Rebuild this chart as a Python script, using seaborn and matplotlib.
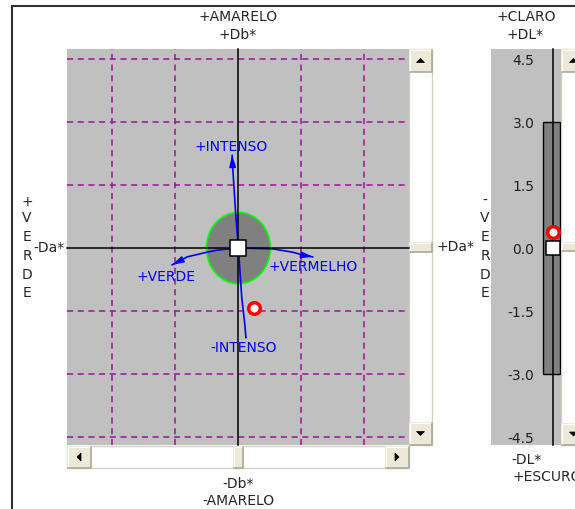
import matplotlib
matplotlib.use("Agg")
import matplotlib.pyplot as plt
from matplotlib.patches import Ellipse, Rectangle, Polygon
import seaborn as sns

sns.set_style("white")
plt.rcParams["font.family"] = ["DejaVu Sans"]
plt.rcParams["axes.unicode_minus"] = False

# CIELAB difference scales
da_ticks = [-3.0, -1.5, 1.5, 3.0]
db_ticks = [-4.5, -3.0, -1.5, 1.5, 3.0, 4.5]
dl_ticks = [4.5, 3.0, 1.5, 0.0, -1.5, -3.0, -4.5]

# tolerance region
tol_da = 0.76
tol_db = 0.85
tol_dl_low = -3.0
tol_dl_high = 3.0

# measured sample
sample_da = [0.37]
sample_db = [-1.43]
sample_dl = [0.38]

# standard (origin)
std_da = [0.0]
std_db = [0.0]
std_dl = [0.0]

# direction curves through the standard
intenso_pos_da = [0.0, -0.06, -0.11, -0.14, -0.15]
intenso_pos_db = [0.0, 0.74, 1.52, 1.98, 2.21]
intenso_neg_da = [0.0, 0.04, 0.08, 0.15, 0.18]
intenso_neg_db = [0.0, -0.60, -1.19, -1.80, -2.14]
verde_da = [0.0, -0.51, -0.75, -1.22, -1.44, -1.58]
verde_db = [0.0, -0.05, -0.10, -0.21, -0.33, -0.40]
vermelho_da = [0.0, 0.82, 1.30, 1.54, 1.77]
vermelho_db = [0.0, -0.02, -0.10, -0.17, -0.21]

W, H = 575, 509
FS = 10
BLUE = "#0000ff"
PANEL = "#c0c0c0"
GRIDC = "#a010a0"
FACE = "#ece9d8"
SHADOW = "#aca899"

fig = plt.figure(figsize=(W / 100, H / 100), dpi=100)
fig.patch.set_facecolor("white")

# ---- window chrome in pixel coordinates ----
bg = fig.add_axes([0, 0, 1, 1], zorder=0)
bg.set_xlim(0, W)
bg.set_ylim(H, 0)
bg.axis("off")

bg.plot([12, 12, W], [H, 6, 6], color="#303030", lw=1.5, solid_joinstyle="miter")


def track(x0, y0, x1, y1):
    bg.add_patch(Rectangle((x0, y0), x1 - x0, y1 - y0, facecolor="white",
                           edgecolor="#d4d0c8", lw=1))


def button(x0, y0, x1, y1, direction=None):
    bg.add_patch(Rectangle((x0, y0), x1 - x0, y1 - y0, facecolor=FACE,
                           edgecolor="none"))
    bg.plot([x0 + 0.5, x0 + 0.5, x1 - 0.5], [y1 - 0.5, y0 + 0.5, y0 + 0.5],
            color="white", lw=0.8)
    bg.plot([x0 + 0.5, x1 - 0.5, x1 - 0.5], [y1 - 0.5, y1 - 0.5, y0 + 0.5],
            color=SHADOW, lw=1.2)
    cx, cy = (x0 + x1) / 2, (y0 + y1) / 2
    if direction == "up":
        pts = [(cx - 4, cy + 2), (cx + 4, cy + 2), (cx, cy - 2)]
    elif direction == "down":
        pts = [(cx - 4, cy - 2), (cx + 4, cy - 2), (cx, cy + 2)]
    elif direction == "left":
        pts = [(cx + 2, cy - 4), (cx + 2, cy + 4), (cx - 2, cy)]
    elif direction == "right":
        pts = [(cx - 2, cy - 4), (cx - 2, cy + 4), (cx + 2, cy)]
    else:
        return
    bg.add_patch(Polygon(pts, closed=True, facecolor="black", edgecolor="black", lw=0.5))


# vertical scrollbar of the a*/b* plot
track(409, 49, 432, 445)
button(409, 49, 432, 72, "up")
button(409, 422, 432, 445, "down")
button(409, 242, 432, 252)
# horizontal scrollbar
track(67, 446, 409, 468)
button(67, 446, 91, 468, "left")
button(385, 446, 409, 468, "right")
button(233, 446, 243, 468)
# scrollbar of the L* bar
track(561, 49, 586, 445)
button(561, 49, 586, 72, "up")
button(561, 423, 586, 445, "down")
button(561, 242, 586, 251)

# axis captions
bg.text(238, 17, "+AMARELO", ha="center", va="center", fontsize=FS)
bg.text(238, 35, "+Db*", ha="center", va="center", fontsize=FS)
bg.text(238, 484, "-Db*", ha="center", va="center", fontsize=FS)
bg.text(238, 501, "-AMARELO", ha="center", va="center", fontsize=FS)
bg.text(49, 248, "-Da*", ha="center", va="center", fontsize=FS)
bg.text(455, 247, "+Da*", ha="center", va="center", fontsize=FS)
for ch, y in zip("+VERDE", [202, 218, 237, 256, 275, 293]):
    bg.text(27, y, ch, ha="center", va="center", fontsize=FS)
for ch, y in zip("-VERDE", [201, 218, 237, 256, 275, 293]):
    bg.text(485, y, ch, ha="center", va="center", fontsize=FS)
bg.text(526, 17, "+CLARO", ha="center", va="center", fontsize=FS)
bg.text(525, 35, "+DL*", ha="center", va="center", fontsize=FS)
bg.text(527, 460, "-DL*", ha="center", va="center", fontsize=FS)
bg.text(512, 477, "+ESCURO", ha="left", va="center", fontsize=FS)

# ---- Da*/Db* chromaticity plot ----
ax = fig.add_axes([67 / W, (H - 445) / H, (409 - 67) / W, (445 - 49) / H], zorder=2)
ax.set_facecolor(PANEL)
ax.set_xticks(da_ticks)
ax.set_yticks(db_ticks)
ax.grid(True, color=GRIDC, lw=1.1, linestyle=(0, (4, 3)))
for side in ("top", "right"):
    ax.spines[side].set_visible(False)
ax.spines["left"].set_position(("data", 0))
ax.spines["bottom"].set_position(("data", 0))
for side in ("left", "bottom"):
    ax.spines[side].set_color("black")
    ax.spines[side].set_linewidth(1.1)
ax.tick_params(direction="inout", length=12.5, width=1.0, color="black",
               labelleft=False, labelbottom=False)

ax.add_patch(Ellipse((0, 0), 2 * tol_da, 2 * tol_db, facecolor="#808080",
                     edgecolor="#00ff00", lw=1.2, zorder=1))

curves = [
    (intenso_pos_da, intenso_pos_db, True),
    (intenso_neg_da, intenso_neg_db, False),
    (verde_da, verde_db, True),
    (vermelho_da, vermelho_db, True),
]
for cx, cy, head in curves:
    sns.lineplot(x=cx, y=cy, sort=False, estimator=None, color=BLUE, lw=1.2,
                 ax=ax, zorder=2)
    if head:
        ax.annotate("", xy=(cx[-1], cy[-1]), xytext=(cx[-2], cy[-2]),
                    arrowprops=dict(arrowstyle="-|>,head_length=0.7,head_width=0.2",
                                    color=BLUE, lw=1.0, shrinkA=0, shrinkB=0,
                                    mutation_scale=10), zorder=3)

ax.text(-0.18, 2.40, "+INTENSO", color=BLUE, ha="center", va="center", fontsize=FS)
ax.text(0.13, -2.38, "-INTENSO", color=BLUE, ha="center", va="center", fontsize=FS)
ax.text(-1.73, -0.69, "+VERDE", color=BLUE, ha="center", va="center", fontsize=FS)
ax.text(1.77, -0.45, "+VERMELHO", color=BLUE, ha="center", va="center", fontsize=FS)

sns.scatterplot(x=std_da, y=std_db, marker="s", s=120, color="white",
                edgecolor="black", linewidth=1.1, ax=ax, zorder=5)
sns.scatterplot(x=sample_da, y=sample_db, marker="o", s=70, color="white",
                edgecolor="#ff0000", linewidth=2.5, ax=ax, zorder=6)

ax.set_xlim(-4.08, 4.06)
ax.set_ylim(-4.69, 4.74)
ax.set_xlabel("")
ax.set_ylabel("")

# ---- DL* lightness bar ----
ax2 = fig.add_axes([491 / W, (H - 445) / H, (561 - 491) / W, (445 - 49) / H], zorder=2)
ax2.set_facecolor(PANEL)
for side in ("top", "right", "bottom"):
    ax2.spines[side].set_visible(False)
ax2.spines["left"].set_position(("data", 0))
ax2.spines["left"].set_color("black")
ax2.spines["left"].set_linewidth(1.1)
ax2.set_xticks([])
ax2.set_yticks(dl_ticks)
ax2.set_yticklabels([f"{v:.1f}" for v in dl_ticks])
ax2.tick_params(axis="y", direction="out", length=12, width=1.0, color="black",
                labelsize=FS, pad=1, labelcolor="#202020")

ax2.bar([-1], [tol_dl_high - tol_dl_low], bottom=tol_dl_low, width=17,
        color="#808080", edgecolor="black", lw=1.0, zorder=1)
sns.scatterplot(x=[0.0], y=std_dl, marker="s", s=105, color="white",
                edgecolor="black", linewidth=1.1, ax=ax2, zorder=5)
sns.scatterplot(x=[0.0], y=sample_dl, marker="o", s=70, color="white",
                edgecolor="#ff0000", linewidth=2.5, ax=ax2, zorder=6)
ax2.set_xlim(-61.5, 8.5)
ax2.set_ylim(-4.69, 4.74)
ax2.set_xlabel("")
ax2.set_ylabel("")

fig.savefig("out.png", dpi=100)
